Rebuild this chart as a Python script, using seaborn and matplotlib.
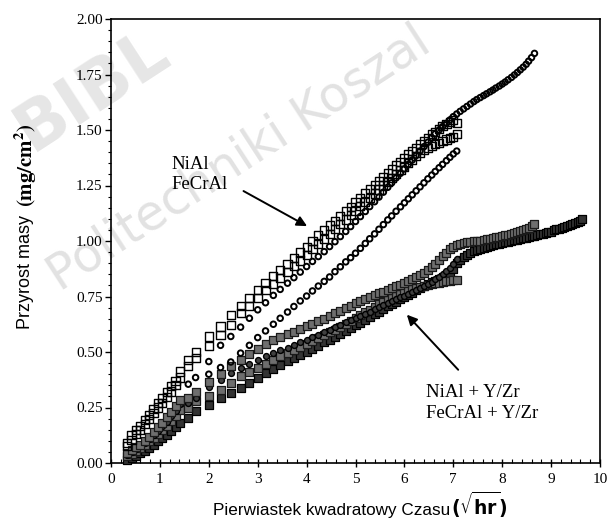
import matplotlib
matplotlib.use("Agg")
import matplotlib.pyplot as plt
import seaborn as sns
import pandas as pd
from matplotlib.ticker import MultipleLocator, FormatStrFormatter

# ---------------- data ----------------
# square-root-of-time sample positions
x_early = [0.33, 0.42, 0.51, 0.60, 0.69, 0.78, 0.87, 0.96, 1.05, 1.14, 1.23, 1.32, 1.41]
x_sample = [1.58, 1.73, 2.00, 2.24, 2.45, 2.65, 2.83, 3.00, 3.16, 3.32,
            3.46, 3.61, 3.74, 3.87, 4.00, 4.12, 4.24, 4.36, 4.47, 4.58,
            4.69, 4.80, 4.90, 5.00, 5.10, 5.20, 5.29, 5.39, 5.48, 5.57,
            5.66, 5.74, 5.83, 5.92, 6.00, 6.08, 6.16, 6.24, 6.32, 6.40,
            6.48, 6.56, 6.63, 6.71, 6.78, 6.86, 6.93, 7.00, 7.07, 7.14,
            7.21, 7.28, 7.35, 7.42, 7.48, 7.55, 7.62, 7.68, 7.75, 7.81,
            7.87, 7.94, 8.00, 8.06, 8.12, 8.19, 8.25, 8.31, 8.37, 8.43,
            8.49, 8.54, 8.60, 8.66, 8.72, 8.77, 8.83, 8.89, 8.94, 9.00,
            9.06, 9.11, 9.17, 9.22, 9.27, 9.33, 9.38, 9.43, 9.49, 9.54,
            9.59, 9.64]

# NiAl (open squares, two runs)
nial_a_early = [0.090, 0.125, 0.148, 0.168, 0.195, 0.218, 0.245, 0.270, 0.292, 0.318, 0.345, 0.370, 0.412]
nial_a = [0.465, 0.498, 0.570, 0.615, 0.668, 0.709, 0.743, 0.781, 0.811, 0.841,
          0.868, 0.895, 0.922, 0.948, 0.975, 1.000, 1.025, 1.048, 1.070, 1.092,
          1.113, 1.135, 1.155, 1.175, 1.195, 1.215, 1.233, 1.252, 1.270, 1.288,
          1.305, 1.322, 1.340, 1.357, 1.373, 1.390, 1.405, 1.420, 1.436, 1.450,
          1.465, 1.480, 1.493, 1.505, 1.517, 1.528, 1.538, 1.545, 1.530]
nial_b_early = [0.075, 0.105, 0.130, 0.150, 0.175, 0.200, 0.225, 0.250, 0.272, 0.298, 0.322, 0.350, 0.385]
nial_b = [0.435, 0.473, 0.525, 0.578, 0.623, 0.676, 0.706, 0.743, 0.778, 0.806,
          0.833, 0.860, 0.886, 0.912, 0.938, 0.962, 0.987, 1.010, 1.032, 1.054,
          1.075, 1.097, 1.117, 1.137, 1.157, 1.177, 1.195, 1.214, 1.232, 1.250,
          1.267, 1.284, 1.302, 1.319, 1.335, 1.352, 1.367, 1.382, 1.396, 1.408,
          1.418, 1.427, 1.435, 1.443, 1.450, 1.457, 1.463, 1.470, 1.480]

# FeCrAl (rings) - long run up to 8.66 and shorter run up to 7.07
fecral_long = [0.355, 0.385, 0.457, 0.530, 0.570, 0.612, 0.652, 0.690, 0.722, 0.755,
               0.782, 0.810, 0.835, 0.860, 0.885, 0.908, 0.930, 0.952, 0.975, 0.997,
               1.020, 1.043, 1.065, 1.088, 1.110, 1.133, 1.155, 1.177, 1.198, 1.220,
               1.242, 1.262, 1.284, 1.305, 1.325, 1.345, 1.365, 1.385, 1.405, 1.425,
               1.445, 1.465, 1.483, 1.500, 1.515, 1.530, 1.545, 1.560, 1.572, 1.584,
               1.595, 1.606, 1.617, 1.628, 1.637, 1.646, 1.655, 1.663, 1.672, 1.680,
               1.689, 1.698, 1.707, 1.716, 1.726, 1.737, 1.748, 1.759, 1.771, 1.783,
               1.796, 1.810, 1.826, 1.845]
fecral_short = [0.400, 0.430, 0.455, 0.495, 0.530, 0.565, 0.595, 0.625, 0.652, 0.680,
                0.705, 0.730, 0.752, 0.775, 0.797, 0.818, 0.838, 0.862, 0.884, 0.906,
                0.925, 0.945, 0.967, 0.989, 1.010, 1.032, 1.053, 1.074, 1.095, 1.113,
                1.134, 1.154, 1.172, 1.190, 1.208, 1.226, 1.244, 1.262, 1.280, 1.297,
                1.313, 1.330, 1.345, 1.362, 1.377, 1.392, 1.405]

# NiAl + Y/Zr (hatched squares, two runs)
nialyz_a_early = [0.045, 0.058, 0.070, 0.083, 0.100, 0.118, 0.138, 0.160, 0.182, 0.205, 0.230, 0.255, 0.285]
nialyz_a = [0.295, 0.318, 0.367, 0.400, 0.435, 0.465, 0.490, 0.515, 0.535, 0.552,
            0.566, 0.580, 0.592, 0.604, 0.616, 0.627, 0.638, 0.650, 0.662, 0.674,
            0.686, 0.698, 0.709, 0.720, 0.730, 0.740, 0.748, 0.756, 0.764, 0.772,
            0.780, 0.788, 0.796, 0.804, 0.812, 0.820, 0.828, 0.837, 0.846, 0.856,
            0.868, 0.882, 0.898, 0.915, 0.932, 0.948, 0.962, 0.973, 0.982, 0.988,
            0.992, 0.995, 0.997, 0.999, 1.000, 1.002, 1.005, 1.008, 1.011, 1.014,
            1.017, 1.020, 1.023, 1.026, 1.029, 1.033, 1.037, 1.041, 1.045, 1.050,
            1.055, 1.060, 1.066, 1.075]
nialyz_b_early = [0.030, 0.042, 0.055, 0.068, 0.082, 0.097, 0.113, 0.130, 0.148, 0.168, 0.190, 0.212, 0.240]
nialyz_b = [0.250, 0.280, 0.300, 0.330, 0.360, 0.390, 0.410, 0.430, 0.448, 0.465,
            0.480, 0.496, 0.510, 0.524, 0.538, 0.551, 0.564, 0.577, 0.589, 0.601,
            0.614, 0.627, 0.640, 0.653, 0.666, 0.679, 0.691, 0.703, 0.714, 0.725,
            0.735, 0.745, 0.754, 0.763, 0.771, 0.778, 0.785, 0.790, 0.795, 0.799,
            0.803, 0.806, 0.809, 0.812, 0.815, 0.818, 0.820, 0.823, 0.826]

# FeCrAl + Y/Zr (dark rings and dark squares)
fecralyz_a_early = [0.035, 0.050, 0.063, 0.076, 0.092, 0.108, 0.126, 0.145, 0.165, 0.186, 0.210, 0.235, 0.265]
fecralyz_a = [0.272, 0.295, 0.344, 0.372, 0.405, 0.428, 0.447, 0.465, 0.480, 0.494,
              0.507, 0.520, 0.532, 0.544, 0.556, 0.567, 0.578, 0.589, 0.600, 0.611,
              0.622, 0.633, 0.643, 0.653, 0.663, 0.673, 0.682, 0.692, 0.701, 0.710,
              0.719, 0.728, 0.737, 0.746, 0.754, 0.763, 0.771, 0.780, 0.789, 0.798,
              0.807, 0.817, 0.828, 0.840, 0.852, 0.865, 0.880, 0.898, 0.918]
fecralyz_b_early = [0.012, 0.022, 0.033, 0.044, 0.056, 0.068, 0.082, 0.098, 0.113, 0.128, 0.143, 0.160, 0.178]
fecralyz_b = [0.202, 0.232, 0.262, 0.292, 0.315, 0.337, 0.360, 0.385, 0.405, 0.425,
              0.442, 0.458, 0.473, 0.487, 0.501, 0.515, 0.529, 0.543, 0.556, 0.569,
              0.582, 0.595, 0.607, 0.620, 0.632, 0.645, 0.657, 0.669, 0.681, 0.693,
              0.705, 0.716, 0.727, 0.738, 0.748, 0.758, 0.768, 0.778, 0.787, 0.796,
              0.805, 0.814, 0.822, 0.830, 0.838, 0.846, 0.856, 0.872, 0.900, 0.915,
              0.928, 0.938, 0.946, 0.953, 0.959, 0.965, 0.970, 0.974, 0.978, 0.982,
              0.985, 0.988, 0.991, 0.994, 0.997, 1.000, 1.003, 1.006, 1.009, 1.012,
              1.015, 1.018, 1.021, 1.024, 1.027, 1.030, 1.033, 1.036, 1.039, 1.042,
              1.048, 1.052, 1.056, 1.060, 1.064, 1.068, 1.072, 1.076, 1.080, 1.085,
              1.091, 1.097]

x_ticks = [0, 1, 2, 3, 4, 5, 6, 7, 8, 9, 10]
y_ticks = [0.00, 0.25, 0.50, 0.75, 1.00, 1.25, 1.50, 1.75, 2.00]

label_top = ["NiAl", "FeCrAl"]
label_bottom = ["NiAl + Y/Zr", "FeCrAl + Y/Zr"]

# ---------------- styling ----------------
sns.set_theme(style="ticks")
plt.rcParams["font.family"] = ["Liberation Serif", "DejaVu Serif"]
plt.rcParams["text.color"] = "black"
plt.rcParams["axes.labelcolor"] = "black"
plt.rcParams["xtick.color"] = "black"
plt.rcParams["ytick.color"] = "black"

fig = plt.figure(figsize=(6.11, 5.23), dpi=100)
fig.patch.set_facecolor("white")
ax = fig.add_axes([111 / 611, 1 - 463 / 523, (600 - 111) / 611, (463 - 19) / 523])
ax.patch.set_alpha(0)

# faint watermark of the scanned source
fig.text(60 / 611, 1 - 292 / 523, "Politechniki Koszal", rotation=33,
         rotation_mode="anchor", ha="left", va="baseline", fontsize=35,
         color="#e2e2e2", family="DejaVu Sans", zorder=-5)
fig.text(32 / 611, 1 - 152 / 523, "BIBL", rotation=33, rotation_mode="anchor",
         ha="left", va="baseline", fontsize=48, fontweight="bold",
         color="#e6e6e6", family="DejaVu Sans", zorder=-5)


def series(early, mid, start=0):
    xs = (x_early if early else []) + x_sample[start:start + len(mid)]
    ys = (early if early else []) + mid
    return pd.DataFrame({"x": xs, "y": ys})


open_sq = dict(marker="s", s=34, facecolor="none", edgecolor="black", linewidth=1.0, color="black")
ring = dict(marker="o", s=16, facecolor="none", edgecolor="black", linewidth=1.4, color="black")
hatch_sq = dict(marker="s", s=27, facecolor="#6e6e6e", edgecolor="#1a1a1a", linewidth=0.9, color="black")
dark_sq = dict(marker="s", s=26, facecolor="#333333", edgecolor="black", linewidth=0.9, color="black")
dark_ring = dict(marker="o", s=18, facecolor="#404040", edgecolor="black", linewidth=1.0, color="black")

layers = [
    (series(fecralyz_b_early, fecralyz_b), dark_sq),
    (series(nialyz_b_early, nialyz_b), hatch_sq),
    (series(fecralyz_a_early, fecralyz_a), dark_ring),
    (series(nialyz_a_early, nialyz_a), hatch_sq),
    (series(None, fecral_short, start=2), ring),
    (series(None, fecral_long), ring),
    (series(nial_b_early, nial_b), open_sq),
    (series(nial_a_early, nial_a), open_sq),
]
for df, style in layers:
    sns.scatterplot(data=df, x="x", y="y", ax=ax, legend=False, zorder=3,
                    clip_on=False, **style)

ax.set_xlim(0, 10)
ax.set_ylim(0, 2)
ax.set_xticks(x_ticks)
ax.set_yticks(y_ticks)
ax.xaxis.set_minor_locator(MultipleLocator(0.2))
ax.yaxis.set_minor_locator(MultipleLocator(0.05))
ax.yaxis.set_major_formatter(FormatStrFormatter("%.2f"))
ax.xaxis.set_major_formatter(FormatStrFormatter("%d"))
ax.tick_params(axis="y", which="major", direction="out", length=4.5, width=1.0,
               labelsize=11, pad=1.5, left=True)
ax.tick_params(axis="y", which="minor", direction="out", length=2.5, width=0.8, left=True)
ax.tick_params(axis="x", which="major", direction="inout", length=6, width=1.0,
               labelsize=11, pad=4, bottom=True)
ax.tick_params(axis="x", which="minor", direction="in", length=3, width=0.8, bottom=True)
for sp in ax.spines.values():
    sp.set_visible(True)
    sp.set_color("black")
    sp.set_linewidth(1.2)
ax.set_xlabel("")
ax.set_ylabel("")

# annotations
ax.text(1.245, 1.323, label_top[0], fontsize=13.5, ha="left", va="baseline")
ax.text(1.245, 1.232, label_top[1], fontsize=13.5, ha="left", va="baseline")
ax.text(6.45, 0.298, label_bottom[0], fontsize=13.5, ha="left", va="baseline")
ax.text(6.45, 0.203, label_bottom[1], fontsize=13.5, ha="left", va="baseline")
arrow = dict(arrowstyle="-|>", color="black", lw=1.4, mutation_scale=15, shrinkA=0, shrinkB=0)
ax.annotate("", xy=(4.01, 1.067), xytext=(2.71, 1.225), arrowprops=arrow)
ax.annotate("", xy=(6.05, 0.668), xytext=(7.10, 0.42), arrowprops=arrow)

# axis titles
fig.text(213 / 611, 1 - 515 / 523, "Pierwiastek kwadratowy Czasu", fontsize=12.3,
         family="Liberation Sans", ha="left", va="baseline")
fig.text(451 / 611, 1 - 515 / 523, r"$\mathbf{(\sqrt{hr})}$", fontsize=13.5,
         math_fontfamily="dejavusans", ha="left", va="baseline")
fig.text(25 / 611, 1 - 272 / 523, "Przyrost masy", fontsize=13, rotation=90,
         family="Liberation Sans", ha="center", va="center", rotation_mode="anchor")
fig.text(26 / 611, 1 - 165 / 523, r"$\mathbf{(mg/cm^{2})}$", fontsize=15, rotation=90,
         math_fontfamily="stix", ha="center", va="center", rotation_mode="anchor")

fig.savefig("out.png", dpi=100, facecolor="white")
